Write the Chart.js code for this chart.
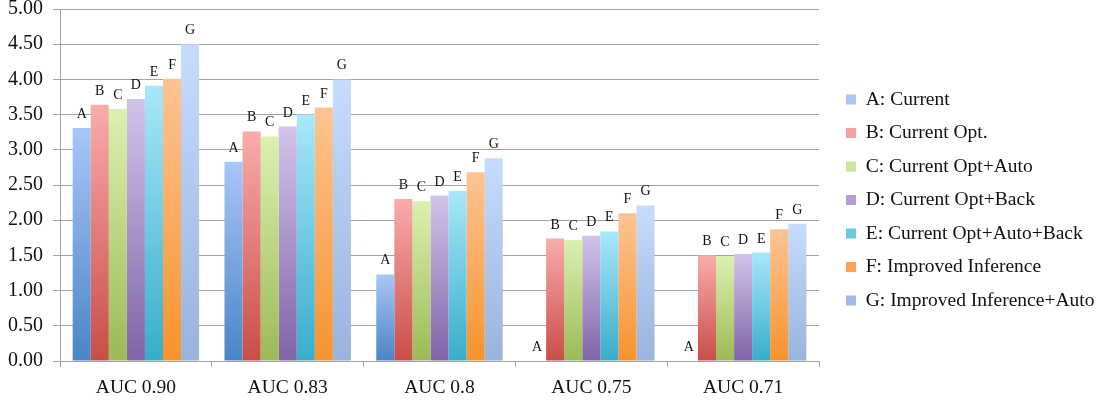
<!DOCTYPE html>
<html>
<head>
<meta charset="utf-8">
<script src="https://cdn.jsdelivr.net/npm/chart.js@4.4.1/dist/chart.umd.min.js"></script>
<style>
  html, body { margin: 0; padding: 0; background: #ffffff; }
  #wrap { width: 1099px; height: 400px; }
</style>
</head>
<body>
<div id="wrap"><canvas id="c" width="1099" height="400"></canvas></div>
<script>
// ---- data ----
const categories = ["AUC 0.90", "AUC 0.83", "AUC 0.8", "AUC 0.75", "AUC 0.71"];
const seriesNames = [
  "A: Current",
  "B: Current Opt.",
  "C: Current Opt+Auto",
  "D: Current Opt+Back",
  "E: Current Opt+Auto+Back",
  "F: Improved Inference",
  "G: Improved Inference+Auto"
];
const barLetters = ["A", "B", "C", "D", "E", "F", "G"];
const seriesA = [3.31, 2.83, 1.23, 0.00, 0.00];
const seriesB = [3.64, 3.26, 2.30, 1.74, 1.50];
const seriesC = [3.58, 3.19, 2.27, 1.72, 1.49];
const seriesD = [3.72, 3.33, 2.35, 1.78, 1.52];
const seriesE = [3.91, 3.50, 2.42, 1.84, 1.54];
const seriesF = [4.01, 3.60, 2.68, 2.10, 1.87];
const seriesG = [4.50, 4.00, 2.88, 2.21, 1.95];
const yTicks = [0, 0.5, 1, 1.5, 2, 2.5, 3, 3.5, 4, 4.5, 5];

// ---- styles ----
const gradTop = ["#a9c6f7", "#f9acab", "#dbf1b1", "#d3c3eb", "#a9e7fb", "#fdc493", "#c6dcff"];
const gradBot = ["#4a85c7", "#c94d47", "#9cba56", "#7f64a6", "#37adca", "#f7932d", "#98b3dc"];
const gradMid = ["#7aa6df", "#e27c79", "#bcd684", "#a993c8", "#70cae2", "#faab60", "#afc8ee"];
const FONT = "'Liberation Serif', 'Times New Roman', serif";
const GRID = "#a3a3a3";

function gradientFor(i) {
  return function (ctx) {
    const chart = ctx.chart;
    if (ctx.type !== 'data' || !chart.chartArea || !chart.scales.y) return gradMid[i];
    const v = ctx.raw;
    const yTop = chart.scales.y.getPixelForValue(v);
    const yBot = chart.scales.y.getPixelForValue(0);
    if (!isFinite(yTop) || yBot - yTop < 1) return gradBot[i];
    const g = chart.ctx.createLinearGradient(0, yTop, 0, yBot);
    g.addColorStop(0, gradTop[i]);
    g.addColorStop(1, gradBot[i]);
    return g;
  };
}

const allSeries = [seriesA, seriesB, seriesC, seriesD, seriesE, seriesF, seriesG];
const datasets = allSeries.map((vals, i) => ({
  label: seriesNames[i],
  data: vals,
  backgroundColor: gradientFor(i),
  borderWidth: 0,
  categoryPercentage: 0.833,
  barPercentage: 1.0
}));

const letterLabels = {
  id: 'letterLabels',
  afterDatasetsDraw(chart) {
    const c = chart.ctx;
    c.save();
    c.font = "14px " + FONT;
    c.fillStyle = "#111";
    c.textAlign = "center";
    c.textBaseline = "alphabetic";
    chart.data.datasets.forEach((ds, i) => {
      const meta = chart.getDatasetMeta(i);
      meta.data.forEach((el) => {
        c.fillText(barLetters[i], el.x, el.y - 10);
      });
    });
    c.restore();
  }
};

new Chart(document.getElementById('c'), {
  type: 'bar',
  data: { labels: categories, datasets: datasets },
  plugins: [letterLabels],
  options: {
    responsive: false,
    animation: false,
    devicePixelRatio: 1,
    layout: { padding: { left: 8, top: 0, right: 0, bottom: 0 } },
    plugins: {
      tooltip: { enabled: false },
      legend: {
        position: 'right',
        align: 'center',
        maxWidth: 267,
        labels: {
          boxWidth: 10,
          boxHeight: 10,
          padding: 14,
          color: "#111",
          font: { family: FONT, size: 19.5 }
        }
      }
    },
    scales: {
      x: {
        grid: {
          offset: true,
          drawOnChartArea: false,
          drawTicks: true,
          tickLength: 6,
          color: GRID
        },
        border: { display: true, color: GRID },
        ticks: {
          color: "#111",
          padding: 9,
          font: { family: FONT, size: 19.5 }
        },
        afterFit(scale) { scale.height = 39; }
      },
      y: {
        min: 0,
        max: 5,
        afterBuildTicks(scale) {
          scale.ticks = yTicks.map(v => ({ value: v }));
        },
        grid: {
          color: GRID,
          drawTicks: true,
          tickLength: 7
        },
        border: { display: true, color: GRID },
        ticks: {
          color: "#111",
          padding: 10,
          font: { family: FONT, size: 20, lineHeight: 0.9 },
          callback: (v) => Number(v).toFixed(2)
        },
        afterFit(scale) {
          scale.width = 52;
          scale.paddingTop = 9;
          scale.paddingBottom = 9;
        }
      },
      y2: {
        position: 'right',
        display: true,
        grid: { display: false, drawTicks: false },
        border: { display: false },
        ticks: { display: false },
        afterFit(scale) { scale.width = 13; }
      }
    }
  }
});
</script>
</body>
</html>
